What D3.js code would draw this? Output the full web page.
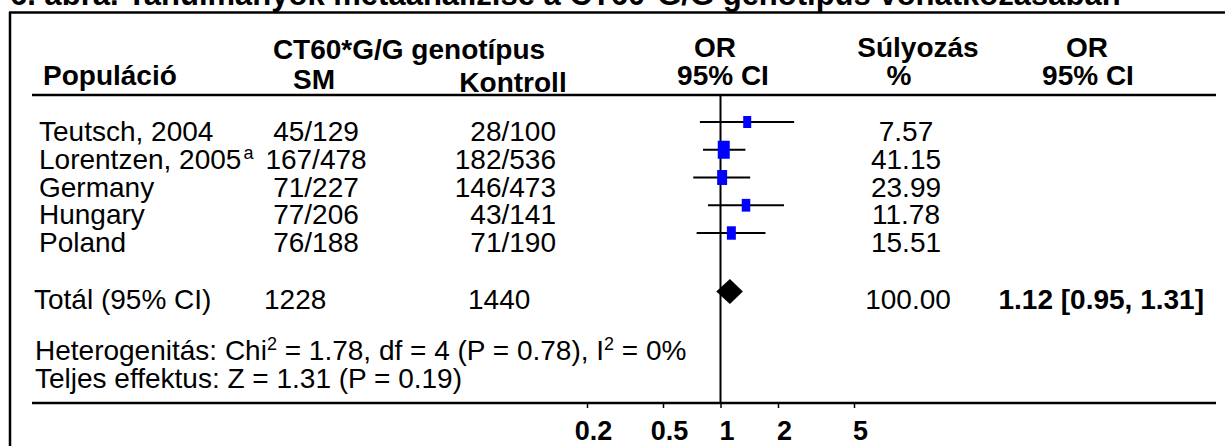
<!DOCTYPE html>
<html lang="hu">
<head>
  <meta charset="UTF-8">
  <title>CT60*G/G genotípus metaanalízis</title>
  <style>
    html,
    body {
      margin: 0;
      padding: 0;
      background: #fff;
    }

    svg text {
      font-family: "Liberation Sans", Arial, sans-serif;
      fill: #000;
    }
  </style>
</head>
<body>
<div id="chart"></div>

<script src="https://d3js.org/d3.v7.min.js"></script>
<script>
  // data
  const studies = ["Teutsch, 2004", "Lorentzen, 2005", "Germany", "Hungary", "Poland"];
  const footnotes = ["", "a", "", "", ""];
  const smCounts = ["45/129", "167/478", "71/227", "77/206", "76/188"];
  const controlCounts = ["28/100", "182/536", "146/473", "43/141", "71/190"];
  const weights = [7.57, 41.15, 23.99, 11.78, 15.51];
  const oddsRatios = [1.38, 1.04, 1.02, 1.36, 1.14];
  const ciLower = [0.78, 0.81, 0.72, 0.86, 0.75];
  const ciUpper = [2.43, 1.35, 1.43, 2.15, 1.72];

  const totalLabel = "Totál (95% CI)";
  const totalSm = "1228";
  const totalControl = "1440";
  const totalWeight = "100.00";
  const totalOr = [1.12, 0.95, 1.31];
  const totalOrText = "1.12 [0.95, 1.31]";

  const axisTicks = [0.2, 0.5, 1, 2, 5];

  const width = 1225;
  const height = 446;

  const svg = d3.select("#chart").append("svg")
    .attr("width", width)
    .attr("height", height);

  // scales
  const x = d3.scaleLog().domain([0.2, 5]).range([587, 854]);
  const rowY = d3.scalePoint().domain(studies).range([141, 252]);
  const totalY = 309;
  const markOffset = -19;
  const boxW = d3.scaleLinear().domain([7.57, 41.15]).range([8, 12]);
  const boxH = d3.scaleLinear().domain([7.57, 41.15]).range([12, 18]);

  // title (cut off at the top of the picture)
  svg.append("text")
    .attr("x", 10)
    .attr("y", 5)
    .attr("font-size", 31)
    .attr("font-weight", "bold")
    .text("6. ábra. Tanulmányok metaanalízise a CT60*G/G genotípus vonatkozásában");

  // frame
  svg.append("line")
    .attr("x1", 9).attr("x2", width)
    .attr("y1", 12.5).attr("y2", 12.5)
    .attr("stroke", "#000").attr("stroke-width", 2.5);
  svg.append("line")
    .attr("x1", 10).attr("x2", 10)
    .attr("y1", 12).attr("y2", height)
    .attr("stroke", "#000").attr("stroke-width", 2.5);

  // header
  const header = svg.append("g")
    .attr("font-size", 28)
    .attr("font-weight", "bold");

  const headerText = (t, xx, yy, anchor) => header.append("text")
    .attr("x", xx).attr("y", yy)
    .attr("text-anchor", anchor || "middle")
    .text(t);

  headerText("CT60*G/G genotípus", 409, 59);
  headerText("Populáció", 43, 85, "start");
  headerText("SM", 314, 89);
  headerText("Kontroll", 513, 92);
  headerText("OR", 715, 57);
  headerText("95% CI", 723, 85);
  headerText("Súlyozás", 918, 57);
  headerText("%", 899, 85);
  headerText("OR", 1087, 57);
  headerText("95% CI", 1088, 85);

  svg.append("line")
    .attr("x1", 32).attr("x2", 1216)
    .attr("y1", 95).attr("y2", 95)
    .attr("stroke", "#000").attr("stroke-width", 2.5);

  // study rows
  const rows = svg.append("g").attr("font-size", 28);

  const names = rows.selectAll("text.name")
    .data(studies)
    .join("text")
    .attr("class", "name")
    .attr("x", 39)
    .attr("y", d => rowY(d))
    .text(d => d);
  names.append("tspan")
    .attr("font-size", 18)
    .attr("dy", -10)
    .attr("dx", 2)
    .text((d, i) => footnotes[i]);

  rows.selectAll("text.sm")
    .data(smCounts)
    .join("text")
    .attr("class", "sm")
    .attr("x", 316)
    .attr("y", (d, i) => rowY(studies[i]))
    .attr("text-anchor", "middle")
    .text(d => d);

  rows.selectAll("text.ctrl")
    .data(controlCounts)
    .join("text")
    .attr("class", "ctrl")
    .attr("x", 556)
    .attr("y", (d, i) => rowY(studies[i]))
    .attr("text-anchor", "end")
    .text(d => d);

  rows.selectAll("text.weight")
    .data(weights)
    .join("text")
    .attr("class", "weight")
    .attr("x", 906)
    .attr("y", (d, i) => rowY(studies[i]))
    .attr("text-anchor", "middle")
    .text(d => d.toFixed(2));

  // total row
  rows.append("text").attr("x", 34).attr("y", totalY).text(totalLabel);
  rows.append("text").attr("x", 264).attr("y", totalY).text(totalSm);
  rows.append("text").attr("x", 468).attr("y", totalY).text(totalControl);
  rows.append("text").attr("x", 908).attr("y", totalY)
    .attr("text-anchor", "middle").text(totalWeight);
  rows.append("text").attr("x", 1204).attr("y", totalY)
    .attr("text-anchor", "end")
    .attr("font-weight", "bold")
    .text(totalOrText);

  // heterogeneity + overall effect
  const het = rows.append("text").attr("x", 35).attr("y", 360);
  het.append("tspan").text("Heterogenitás: Chi");
  het.append("tspan").attr("font-size", 18).attr("dy", -10).text("2");
  het.append("tspan").attr("dy", 10).text(" = 1.78, df = 4 (P = 0.78), I");
  het.append("tspan").attr("font-size", 18).attr("dy", -10).text("2");
  het.append("tspan").attr("dy", 10).text(" = 0%");

  rows.append("text").attr("x", 35).attr("y", 388)
    .text("Teljes effektus: Z = 1.31 (P = 0.19)");

  // line of no effect
  svg.append("line")
    .attr("x1", x(1)).attr("x2", x(1))
    .attr("y1", 95).attr("y2", 403)
    .attr("stroke", "#000").attr("stroke-width", 2);

  // confidence intervals
  const plot = svg.append("g");
  plot.selectAll("line.ci")
    .data(studies)
    .join("line")
    .attr("class", "ci")
    .attr("x1", (d, i) => x(ciLower[i]))
    .attr("x2", (d, i) => x(ciUpper[i]))
    .attr("y1", d => rowY(d) + markOffset)
    .attr("y2", d => rowY(d) + markOffset)
    .attr("stroke", "#000")
    .attr("stroke-width", 2);

  plot.selectAll("rect.box")
    .data(studies)
    .join("rect")
    .attr("class", "box")
    .attr("x", (d, i) => x(oddsRatios[i]) - boxW(weights[i]) / 2)
    .attr("y", (d, i) => rowY(d) + markOffset - boxH(weights[i]) / 2)
    .attr("width", (d, i) => boxW(weights[i]))
    .attr("height", (d, i) => boxH(weights[i]))
    .attr("fill", "#0000ff");

  // pooled estimate
  const dy = totalY - 17.5;
  const dh = 12.5;
  plot.append("path")
    .attr("d", d3.line()([
      [x(totalOr[1]), dy],
      [x(totalOr[0]), dy - dh],
      [x(totalOr[2]), dy],
      [x(totalOr[0]), dy + dh]
    ]) + "Z")
    .attr("fill", "#000");

  // axis
  svg.append("line")
    .attr("x1", 32).attr("x2", 1216)
    .attr("y1", 403).attr("y2", 403)
    .attr("stroke", "#000").attr("stroke-width", 2.5);

  const axis = svg.append("g")
    .attr("transform", "translate(0,403)")
    .call(d3.axisBottom(x).tickValues(axisTicks).tickFormat(d3.format("")).tickSize(5));
  axis.select(".domain").remove();
  axis.selectAll(".tick line").attr("stroke", "#000").attr("stroke-width", 1.5);
  axis.selectAll(".tick text")
    .attr("y", 37)
    .attr("dy", 0)
    .attr("dx", 6)
    .attr("font-size", 27)
    .attr("font-weight", "bold")
    .attr("font-family", "Liberation Sans, Arial, sans-serif")
    .attr("fill", "#000");
</script>
</body>
</html>
